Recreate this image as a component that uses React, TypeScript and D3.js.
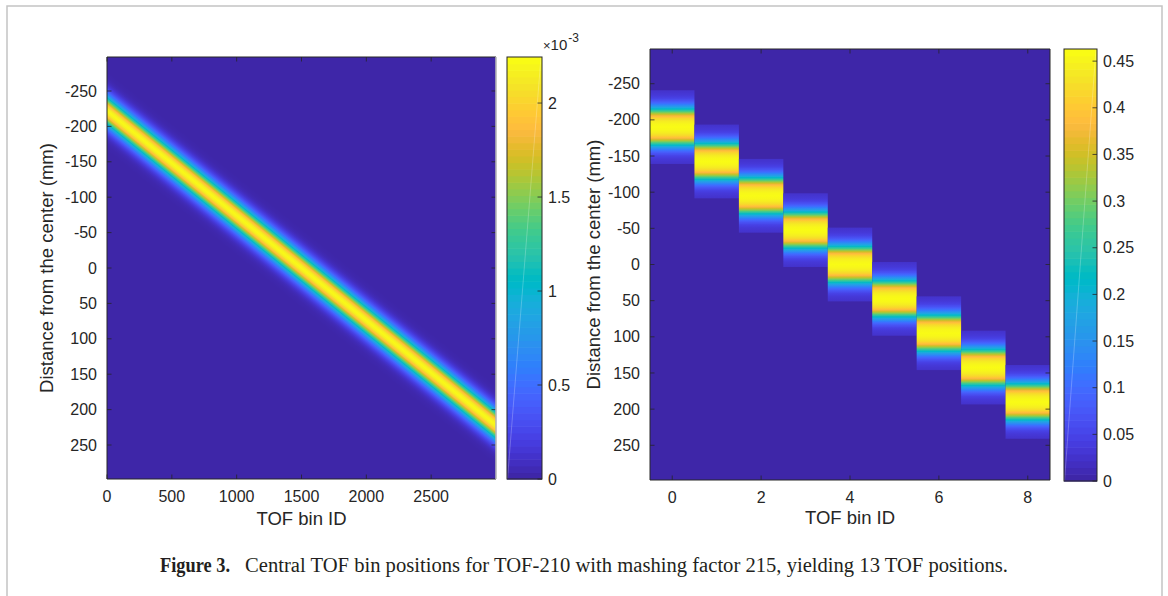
import React from 'react';
import * as d3 from 'd3';

// MATLAB parula colormap (64 entries)
const PARULA: number[][] = [
  [0.2422, 0.1504, 0.6603], [0.2504, 0.165, 0.7076], [0.2578, 0.1818, 0.7511], [0.2647, 0.1978, 0.7952],
  [0.2706, 0.2147, 0.8364], [0.2751, 0.2342, 0.871], [0.2783, 0.2559, 0.8991], [0.2803, 0.2782, 0.9221],
  [0.2813, 0.3006, 0.9414], [0.281, 0.3228, 0.9579], [0.2795, 0.3447, 0.9717], [0.276, 0.3667, 0.9829],
  [0.2699, 0.3892, 0.9906], [0.2602, 0.4123, 0.9952], [0.244, 0.4358, 0.9988], [0.2206, 0.4603, 0.9973],
  [0.1963, 0.4847, 0.9892], [0.1834, 0.5074, 0.9798], [0.1786, 0.5289, 0.9682], [0.1764, 0.5499, 0.952],
  [0.1687, 0.5703, 0.9359], [0.154, 0.5902, 0.9218], [0.146, 0.6091, 0.9079], [0.138, 0.6276, 0.8973],
  [0.1248, 0.6459, 0.8883], [0.1113, 0.6635, 0.8763], [0.0952, 0.6798, 0.8598], [0.0689, 0.6948, 0.8394],
  [0.0297, 0.7082, 0.8163], [0.0036, 0.7203, 0.7917], [0.0067, 0.7312, 0.766], [0.0433, 0.7411, 0.7394],
  [0.0964, 0.75, 0.712], [0.1408, 0.7584, 0.6842], [0.1717, 0.767, 0.6554], [0.1938, 0.7758, 0.6251],
  [0.2161, 0.7843, 0.5923], [0.247, 0.7918, 0.5567], [0.2906, 0.7973, 0.5188], [0.3406, 0.8008, 0.4789],
  [0.3909, 0.8029, 0.4354], [0.4456, 0.8024, 0.3909], [0.5044, 0.7993, 0.348], [0.5616, 0.7942, 0.3045],
  [0.6174, 0.7876, 0.2612], [0.672, 0.7793, 0.2227], [0.7242, 0.7698, 0.191], [0.7738, 0.7598, 0.1646],
  [0.8203, 0.7498, 0.1535], [0.8634, 0.7406, 0.1596], [0.9035, 0.733, 0.1774], [0.9393, 0.7288, 0.21],
  [0.9728, 0.7298, 0.2394], [0.9956, 0.7434, 0.2371], [0.997, 0.7659, 0.2199], [0.9952, 0.7893, 0.2028],
  [0.9892, 0.8136, 0.1885], [0.9786, 0.8386, 0.1766], [0.9676, 0.8639, 0.1643], [0.961, 0.889, 0.1537],
  [0.9597, 0.9135, 0.1423], [0.9628, 0.9373, 0.1265], [0.9691, 0.9606, 0.1064], [0.9769, 0.9839, 0.0805],
];
const PARULA_HEX = PARULA.map(c => d3.rgb(c[0] * 255, c[1] * 255, c[2] * 255).formatHex());

// ---------- Left panel data ----------
const leftBinRange = [0, 3000];               // TOF bin ID extent
const leftCenterMm = [-222, 222];             // band centre at first / last bin
const leftOffsetsMm = [0, 4, 8, 12, 16, 20, 24, 28, 32, 36, 40, 44, 48, 56];
const leftProfile = [2.24, 2.16, 1.94, 1.63, 1.27, 0.92, 0.62, 0.39, 0.23, 0.13, 0.064, 0.031, 0.014, 0]; // ×10^-3
const leftCbarMax = 2.245;                    // ×10^-3
const leftXTicks = [0, 500, 1000, 1500, 2000, 2500];
const leftCbarTicks = [0, 0.5, 1, 1.5, 2];

// ---------- Right panel data ----------
const rightBins = [0, 1, 2, 3, 4, 5, 6, 7, 8];
const rightCentersMm = [-190, -142.5, -95, -47.5, 0, 47.5, 95, 142.5, 190];
const rightOffsetsMm = [0, 4, 8, 12, 16, 20, 24, 28, 32, 36, 40, 44, 48, 51];
const rightProfile = [0.463, 0.458, 0.445, 0.42, 0.375, 0.31, 0.235, 0.165, 0.11, 0.07, 0.045, 0.032, 0.026, 0.022];
const rightCbarMax = 0.463;
const rightXTicks = [0, 2, 4, 6, 8];
const rightCbarTicks = [0, 0.05, 0.1, 0.15, 0.2, 0.25, 0.3, 0.35, 0.4, 0.45];

// ---------- shared ----------
const yDomain = [-298, 298];
const yTicks = [-250, -200, -150, -100, -50, 0, 50, 100, 150, 200, 250];

const TXT = '#262626';
const FONT = 'Liberation Sans, Arial, Helvetica, sans-serif';
const TICK_FS = 16;
const LABEL_FS = 18.5;
const TL = 4.5;

function colorScale(vmax: number) {
  return d3
    .scaleLinear<string>()
    .domain(PARULA_HEX.map((_, i) => (i / (PARULA_HEX.length - 1)) * vmax))
    .range(PARULA_HEX)
    .interpolate(d3.interpolateRgb)
    .clamp(true);
}

function gradientStops(offsets: number[], profile: number[], vmax: number) {
  const prof = d3.scaleLinear().domain(offsets).range(profile).clamp(true);
  const cs = colorScale(vmax);
  const dmax = offsets[offsets.length - 1];
  const stops: { o: number; c: string }[] = [];
  const n = 120;
  for (let k = 0; k <= n; k++) {
    const d = -dmax + (2 * dmax * k) / n;
    stops.push({ o: k / n, c: cs(prof(Math.abs(d))) });
  }
  return stops;
}

const fmt = (v: number) => String(v);

function Colorbar({ x0, x1, y0, y1, vmax, ticks }: any) {
  const sc = d3.scaleLinear().domain([0, vmax]).range([y1, y0]);
  const n = PARULA_HEX.length;
  const h = (y1 - y0) / n;
  return (
    <g>
      {PARULA_HEX.map((c, i) => (
        <rect key={i} x={x0} y={y1 - (i + 1) * h} width={x1 - x0} height={h + 0.6} fill={c} />
      ))}
      <line x1={x0 + 0.5} y1={y1} x2={x1 - 1} y2={y0} stroke="#fff" strokeOpacity={0.3} strokeWidth={0.8} />
      <rect x={x0} y={y0} width={x1 - x0} height={y1 - y0} fill="none" stroke={TXT} strokeWidth={1} />
      {ticks.map((t: number) => (
        <g key={t}>
          <line x1={x1} x2={x1 - TL} y1={sc(t)} y2={sc(t)} stroke={TXT} strokeWidth={0.8} />
          <text x={x1 + 6} y={sc(t)} dy="0.35em" fontSize={TICK_FS} fill={TXT} fontFamily={FONT}>
            {fmt(t)}
          </text>
        </g>
      ))}
    </g>
  );
}

function Axes({ x0, x1, y0, y1, xs, ys, xTicks, rightEdgeGrey }: any) {
  return (
    <g>
      {xTicks.map((t: number) => (
        <g key={'x' + t}>
          <line x1={xs(t)} x2={xs(t)} y1={y1} y2={y1 - TL} stroke={TXT} strokeWidth={0.8} />
          <line x1={xs(t)} x2={xs(t)} y1={y0} y2={y0 + TL} stroke={TXT} strokeWidth={0.8} />
          <text x={xs(t)} y={y1 + 23} textAnchor="middle" fontSize={TICK_FS} fill={TXT} fontFamily={FONT}>
            {fmt(t)}
          </text>
        </g>
      ))}
      {yTicks.map((t: number) => (
        <g key={'y' + t}>
          <line x1={x0} x2={x0 + TL} y1={ys(t)} y2={ys(t)} stroke={TXT} strokeWidth={0.8} />
          <line x1={x1} x2={x1 - TL} y1={ys(t)} y2={ys(t)} stroke={TXT} strokeWidth={0.8} />
          <text x={x0 - 10} y={ys(t)} dy="0.35em" textAnchor="end" fontSize={TICK_FS} fill={TXT} fontFamily={FONT}>
            {fmt(t)}
          </text>
        </g>
      ))}
      <path d={`M${x1},${y0} H${x0} V${y1} H${x1}`} fill="none" stroke={TXT} strokeWidth={1} />
      <line x1={x1} x2={x1} y1={y0} y2={y1} stroke={rightEdgeGrey ? '#b5b5b5' : TXT} strokeWidth={rightEdgeGrey ? 1.6 : 1} />
    </g>
  );
}

export default function App() {
  // Left panel geometry
  const L = { x0: 107, x1: 496, y0: 57, y1: 479 };
  const xL = d3.scaleLinear().domain(leftBinRange).range([L.x0, L.x1]);
  const yL = d3.scaleLinear().domain(yDomain).range([L.y0, L.y1]);
  // Right panel geometry
  const R = { x0: 650, x1: 1050, y0: 49, y1: 480 };
  const xR = d3.scaleLinear().domain([rightBins[0] - 0.5, rightBins[rightBins.length - 1] + 0.5]).range([R.x0, R.x1]);
  const yR = d3.scaleLinear().domain(yDomain).range([R.y0, R.y1]);

  const csR = colorScale(rightCbarMax);

  // Left band gradient, perpendicular to the band
  const P0 = [xL(leftBinRange[0]), yL(leftCenterMm[0])];
  const P1 = [xL(leftBinRange[1]), yL(leftCenterMm[1])];
  const len = Math.hypot(P1[0] - P0[0], P1[1] - P0[1]);
  const ux = (P1[0] - P0[0]) / len;
  const uy = (P1[1] - P0[1]) / len;
  const nx = -uy;
  const ny = ux;
  const Pc = [(P0[0] + P1[0]) / 2, (P0[1] + P1[1]) / 2];
  const kyL = (L.y1 - L.y0) / (yDomain[1] - yDomain[0]);
  const dmaxL = leftOffsetsMm[leftOffsetsMm.length - 1];
  const Rpx = dmaxL * kyL * ux;
  const stopsL = gradientStops(leftOffsetsMm, leftProfile, leftCbarMax);
  const stopsR = gradientStops(rightOffsetsMm, rightProfile, rightCbarMax);
  const dmaxR = rightOffsetsMm[rightOffsetsMm.length - 1];

  return (
    <svg width={1168} height={596} style={{ position: 'absolute', left: 0, top: 0, background: '#fff' }}>
      <defs>
        <linearGradient
          id="bandL"
          gradientUnits="userSpaceOnUse"
          x1={Pc[0] - nx * Rpx}
          y1={Pc[1] - ny * Rpx}
          x2={Pc[0] + nx * Rpx}
          y2={Pc[1] + ny * Rpx}
          spreadMethod="pad"
        >
          {stopsL.map((s, i) => (
            <stop key={i} offset={s.o} stopColor={s.c} />
          ))}
        </linearGradient>
        <linearGradient id="colR" x1={0} y1={0} x2={0} y2={1}>
          {stopsR.map((s, i) => (
            <stop key={i} offset={s.o} stopColor={s.c} />
          ))}
        </linearGradient>
        <clipPath id="clipL">
          <rect x={L.x0} y={L.y0} width={L.x1 - L.x0} height={L.y1 - L.y0} />
        </clipPath>
      </defs>
      <rect x={0} y={0} width={1168} height={596} fill="#fff" />
      <path d="M7,596 V6 H1162 V596" fill="none" stroke="#c4c4c4" strokeWidth={1.5} />

      {/* Left heatmap */}
      <g clipPath="url(#clipL)">
        <rect x={L.x0} y={L.y0} width={L.x1 - L.x0} height={L.y1 - L.y0} fill="url(#bandL)" />
      </g>
      <Axes {...L} xs={xL} ys={yL} xTicks={leftXTicks} rightEdgeGrey />
      <text x={(L.x0 + L.x1) / 2} y={525} textAnchor="middle" fontSize={LABEL_FS} fill={TXT} fontFamily={FONT}>
        TOF bin ID
      </text>
      <text
        transform={`translate(47,${(L.y0 + L.y1) / 2}) rotate(-90)`}
        textAnchor="middle"
        dy="0.35em"
        fontSize={LABEL_FS}
        fill={TXT}
        fontFamily={FONT}
      >
        Distance from the center (mm)
      </text>
      <Colorbar x0={507} x1={542} y0={L.y0} y1={L.y1} vmax={leftCbarMax} ticks={leftCbarTicks} />
      <text x={543} y={50} fill={TXT} fontFamily={FONT}>
        <tspan fontSize={13}>×</tspan>
        <tspan fontSize={15}>10</tspan>
        <tspan fontSize={12} dy={-8} dx={1}>-3</tspan>
      </text>

      {/* Right heatmap */}
      <rect x={R.x0} y={R.y0} width={R.x1 - R.x0} height={R.y1 - R.y0} fill={csR(0)} />
      {rightBins.map((b, i) => (
        <rect
          key={b}
          x={xR(b - 0.5)}
          width={xR(b + 0.5) - xR(b - 0.5)}
          y={yR(rightCentersMm[i] - dmaxR)}
          height={yR(rightCentersMm[i] + dmaxR) - yR(rightCentersMm[i] - dmaxR)}
          fill="url(#colR)"
        />
      ))}
      <Axes {...R} xs={xR} ys={yR} xTicks={rightXTicks} />
      <text x={(R.x0 + R.x1) / 2} y={524} textAnchor="middle" fontSize={LABEL_FS} fill={TXT} fontFamily={FONT}>
        TOF bin ID
      </text>
      <text
        transform={`translate(594,${(R.y0 + R.y1) / 2}) rotate(-90)`}
        textAnchor="middle"
        dy="0.35em"
        fontSize={LABEL_FS}
        fill={TXT}
        fontFamily={FONT}
      >
        Distance from the center (mm)
      </text>
      <Colorbar x0={1064} x1={1097} y0={R.y0} y1={481} vmax={rightCbarMax} ticks={rightCbarTicks} />

      {/* Caption */}
      <text x={160} y={572} fontSize={20} fontWeight="bold" fill="#231f20" fontFamily="Liberation Serif, Times New Roman, serif" textLength={70} lengthAdjust="spacingAndGlyphs">
        Figure 3.
      </text>
      <text x={245} y={572} fontSize={20} fill="#231f20" fontFamily="Liberation Serif, Times New Roman, serif" textLength={763} lengthAdjust="spacingAndGlyphs">
        Central TOF bin positions for TOF-210 with mashing factor 215, yielding 13 TOF positions.
      </text>
    </svg>
  );
}
